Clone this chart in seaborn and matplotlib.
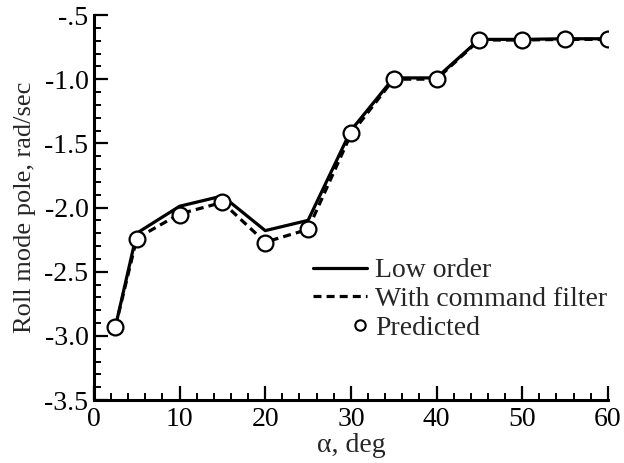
import numpy as np
import pandas as pd
import matplotlib
matplotlib.use("Agg")
import matplotlib.pyplot as plt
from matplotlib.lines import Line2D
from matplotlib.legend_handler import HandlerLine2D
from matplotlib.ticker import MultipleLocator
import seaborn as sns

# ---- data ----
alpha = [2.5, 5, 10, 15, 20, 25, 30, 35, 40, 45, 50, 55, 60]
low_order = [-2.93, -2.20, -1.99, -1.91, -2.18, -2.10, -1.40, -0.99, -0.99, -0.69, -0.69, -0.685, -0.685]
cmd_filter = [-2.93, -2.24, -2.05, -1.96, -2.27, -2.17, -1.43, -1.00, -1.00, -0.695, -0.695, -0.69, -0.69]
predicted = [-2.93, -2.245, -2.055, -1.96, -2.275, -2.165, -1.42, -1.00, -1.00, -0.695, -0.695, -0.69, -0.69]
xticks = [0, 10, 20, 30, 40, 50, 60]
xticklabels = ["0", "10", "20", "30", "40", "50", "60"]
yticks = [-0.5, -1.0, -1.5, -2.0, -2.5, -3.0, -3.5]
yticklabels = ["-.5", "-1.0", "-1.5", "-2.0", "-2.5", "-3.0", "-3.5"]
labels = ["Low order", "With command filter", "Predicted"]

df = pd.DataFrame({"alpha": alpha, "low": low_order, "filt": cmd_filter, "pred": predicted})

sns.set_theme(style="white")
plt.rcParams["font.family"] = ["Liberation Serif", "DejaVu Serif"]

FS = 20
fig = plt.figure(figsize=(6.24, 4.63), dpi=100)
ax = fig.add_axes([0.1506, 0.136, 0.8234, 0.8316])

sns.lineplot(data=df, x="alpha", y="low", ax=ax, color="black", lw=2.3, zorder=2, legend=False)
sns.lineplot(data=df, x="alpha", y="filt", ax=ax, color="black", lw=2.3, ls=(0, (2.5, 1.6)), zorder=2, legend=False)
sns.scatterplot(data=df, x="alpha", y="pred", ax=ax, marker="o", s=130, facecolor="white",
                edgecolor="black", linewidth=1.6, zorder=3, legend=False)

ax.set_xlim(0, 60)
ax.set_ylim(-3.5, -0.5)
ax.set_xticks(xticks)
ax.set_xticklabels(xticklabels)
ax.set_yticks(yticks)
ax.set_yticklabels(yticklabels)
ax.xaxis.set_minor_locator(MultipleLocator(2))
ax.yaxis.set_minor_locator(MultipleLocator(0.1))
ax.tick_params(axis="both", which="major", direction="in", length=10, width=1.6,
               labelsize=FS, colors="black")
ax.tick_params(axis="x", which="major", pad=5)
ax.tick_params(axis="y", which="major", pad=4)
ax.tick_params(axis="both", which="minor", direction="in", length=5, width=1.4, colors="black")
ax.tick_params(bottom=True, left=True, which="both")

for s in ["top", "right"]:
    ax.spines[s].set_visible(False)
for s in ["left", "bottom"]:
    ax.spines[s].set_color("black")
    ax.spines[s].set_linewidth(2.2)

ax.set_xlabel("α, deg", fontsize=FS, labelpad=1)
ax.set_ylabel("Roll mode pole, rad/sec", fontsize=19, labelpad=6)


class MarkerHandle(Line2D):
    pass


class RightMarkerHandler(HandlerLine2D):
    def get_xdata(self, legend, xdescent, ydescent, width, height, fontsize):
        m = -xdescent + width - 0.28 * fontsize
        return [m - 1.0, m + 1.0], [m]


h1 = Line2D([], [], color="black", lw=2.3)
h2 = Line2D([], [], color="black", lw=2.3, ls=(0, (2.5, 1.6)))
h3 = MarkerHandle([], [], color="none", marker="o", markersize=7.5, markerfacecolor="white",
                  markeredgecolor="black", markeredgewidth=1.5, ls="none")
fig.legend([h1, h2, h3], labels, loc="upper left", bbox_to_anchor=(0.502, 0.443),
           frameon=False, fontsize=FS, handlelength=1.95, handletextpad=0.28,
           labelspacing=0.12, borderaxespad=0, borderpad=0,
           handler_map={MarkerHandle: RightMarkerHandler()})

fig.savefig("out.png", dpi=100)
